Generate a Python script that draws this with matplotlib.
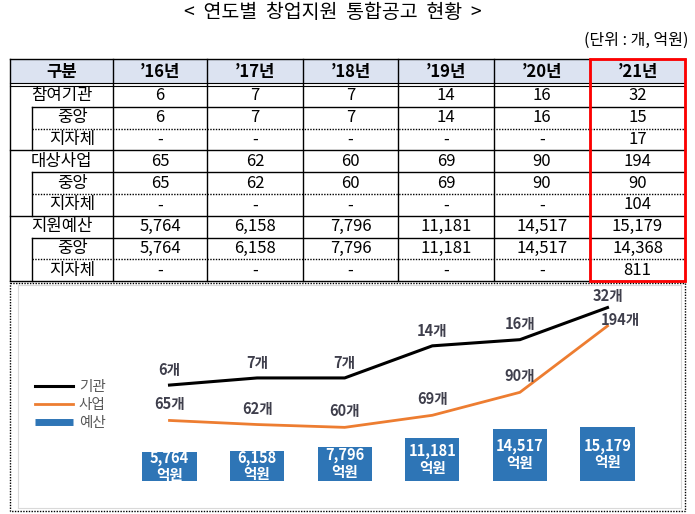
import matplotlib
matplotlib.use('Agg')
import matplotlib.pyplot as plt
from matplotlib.lines import Line2D
from matplotlib.patches import Rectangle
import numpy as np

plt.rcParams['font.family'] = ['Noto Sans CJK KR', 'DejaVu Sans']

# table data
years = ['’16년', '’17년', '’18년', '’19년', '’20년', '’21년']
row_labels = ['참여기관', '중앙', '지자체', '대상사업', '중앙', '지자체', '지원예산', '중앙', '지자체']
org_total = ['6', '7', '7', '14', '16', '32']
org_central = ['6', '7', '7', '14', '16', '15']
org_local = ['-', '-', '-', '-', '-', '17']
biz_total = ['65', '62', '60', '69', '90', '194']
biz_central = ['65', '62', '60', '69', '90', '90']
biz_local = ['-', '-', '-', '-', '-', '104']
bud_total = ['5,764', '6,158', '7,796', '11,181', '14,517', '15,179']
bud_central = ['5,764', '6,158', '7,796', '11,181', '14,517', '14,368']
bud_local = ['-', '-', '-', '-', '-', '811']
table_rows = [org_total, org_central, org_local, biz_total, biz_central, biz_local,
              bud_total, bud_central, bud_local]

# chart data
orgs = [6, 7, 7, 14, 16, 32]
bizs = [65, 62, 60, 69, 90, 194]
budget = [5764, 6158, 7796, 11181, 14517, 15179]

W, H = 695, 514
fig = plt.figure(figsize=(W / 100, H / 100), dpi=100)

# full-figure axes in pixel units for the document part
ax = fig.add_axes([0, 0, 1, 1])
ax.set_xlim(0, W)
ax.set_ylim(H, 0)
ax.axis('off')

ax.text(333, 13, '<  연도별  창업지원  통합공고  현황  >', ha='center', va='center', fontsize=14)
ax.text(688, 40, '(단위 : 개, 억원)', ha='right', va='center', fontsize=11.5)

col_edges = [10, 113, 207, 303, 398, 494, 590, 685]
top, head_bot = 59, 84
row_top, row_h = 85, 21.8
sub_x = 32
left, right = col_edges[0], col_edges[-1]
bottom = row_top + row_h * len(row_labels)

ax.add_patch(Rectangle((left, top), right - left, head_bot - top - 1, color='#dce3f1', lw=0))
ax.plot([left, right], [top, top], color='black', lw=1)
ax.plot([left, right], [head_bot - 1, head_bot - 1], color='black', lw=0.8)
ax.plot([left, right], [head_bot + 1.5, head_bot + 1.5], color='black', lw=0.8)
for xe in col_edges:
    ax.plot([xe, xe], [top, bottom], color='black', lw=1)

for g in range(3):
    y0 = row_top + row_h * 3 * g
    ax.plot([sub_x, sub_x], [y0 + row_h, y0 + row_h * 3], color='black', lw=1)
    ax.plot([sub_x, right], [y0 + row_h, y0 + row_h], color='black', lw=1)
    ax.plot([sub_x, right], [y0 + row_h * 2, y0 + row_h * 2], color='black', lw=1, ls=(0, (1, 1)))
    ax.plot([left, right], [y0 + row_h * 3, y0 + row_h * 3], color='black', lw=1)

centers = [(a + b) / 2 for a, b in zip(col_edges[:-1], col_edges[1:])]
ax.text(centers[0], (top + head_bot) / 2, '구분', ha='center', va='center', fontsize=12, fontweight='bold')
for cx, yr in zip(centers[1:], years):
    ax.text(cx, (top + head_bot) / 2, yr, ha='center', va='center', fontsize=12, fontweight='bold')

for i, (lab, vals) in enumerate(zip(row_labels, table_rows)):
    cy = row_top + row_h * (i + 0.5)
    lx = centers[0] if i % 3 == 0 else (sub_x + col_edges[1]) / 2
    ax.text(lx, cy, lab, ha='center', va='center', fontsize=12)
    for cx, v in zip(centers[1:], vals):
        ax.text(cx, cy, v, ha='center', va='center', fontsize=12)

# red highlight on the latest year
ax.add_patch(Rectangle((col_edges[-2], top), right - col_edges[-2], bottom - top,
                       fill=False, edgecolor='#ff0000', lw=2, zorder=5))

# dotted frame around the chart picture
ax.add_patch(Rectangle((left, 283), right - left, 228, fill=False, edgecolor='black',
                       lw=1, ls=(0, (1, 1))))

# chart
cl, cr, ct, cb = 18, 681, 285, 508
ax_bar = fig.add_axes([cl / W, 1 - cb / H, (cr - cl) / W, (cb - ct) / H])
x = np.arange(len(budget))
step = 87.6
x0 = 169.5
ax_bar.set_xlim(-(x0 - cl) / step, (cr - x0) / step)
base = -5000
ax_bar.set_ylim(-15050, 67950)
bud = np.array(budget)
ax_bar.bar(x, bud - base, bottom=base, width=0.62, color='#2e75b6')
for xi, v in zip(x, budget):
    ax_bar.text(xi, (v + base) / 2, f'{v:,}\n억원', ha='center', va='center', color='white',
                fontsize=10.5, fontweight='bold', linespacing=1.05)
ax_bar.set_xticks([])
ax_bar.set_yticks([])
for s in ax_bar.spines.values():
    s.set_color('#d9d9d9')

ax_k = ax_bar.twinx()
ax_k.set_yscale('log')
ax_k.set_ylim(0.422, 52.1)
ax_k.plot(x, orgs, color='black', lw=2.2)
ax_o = ax_bar.twinx()
ax_o.set_yscale('log')
ax_o.set_ylim(23.6, 311.6)
ax_o.plot(x, bizs, color='#ed7d31', lw=2)
for a in (ax_k, ax_o):
    a.set_axis_off()
    a.set_xlim(ax_bar.get_xlim())

lab_col = '#3f3f4c'
for i, v in enumerate(orgs):
    dy = 8 if i == len(orgs) - 1 else 11
    ax_k.annotate(f'{v}개', (x[i], v), xytext=(0, dy), textcoords='offset points',
                  ha='center', va='center', fontsize=10.5, fontweight='bold', color=lab_col)
for i, v in enumerate(bizs):
    off = (9, 4) if i == len(bizs) - 1 else (0, 11.5)
    ax_o.annotate(f'{v}개', (x[i], v), xytext=off, textcoords='offset points',
                  ha='center', va='center', fontsize=10.5, fontweight='bold', color=lab_col)

handles = [Line2D([], [], color='black', lw=2.2),
           Line2D([], [], color='#ed7d31', lw=2),
           Line2D([], [], color='#2e75b6', lw=5, solid_capstyle='butt')]
fig.legend(handles, ['기관', '사업', '예산'], loc='center left',
           bbox_to_anchor=(35 / W, 1 - 405 / H), frameon=False, fontsize=10.5,
           labelcolor='#595959', handlelength=2.6, handletextpad=0.4,
           labelspacing=0.3, borderpad=0, borderaxespad=0)

fig.savefig('out.png', dpi=100)
